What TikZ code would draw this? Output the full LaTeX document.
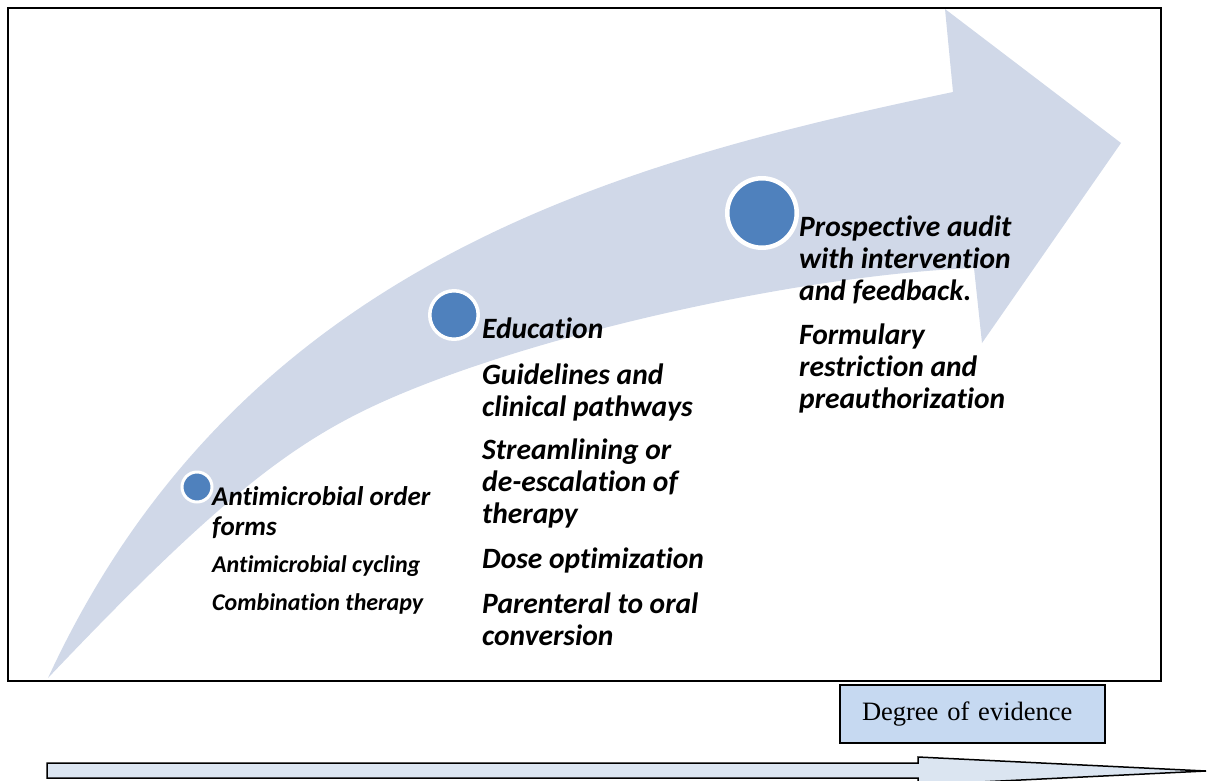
\documentclass[tikz,border=0pt]{standalone}
\usepackage{fontspec}
\newfontfamily\calibri[Ligatures=NoCommon]{Carlito}
\newfontfamily\timesfont{Liberation Serif}
\definecolor{bandfill}{RGB}{208,216,232}
\definecolor{dotblue}{RGB}{79,129,189}
\definecolor{boxfill}{RGB}{198,217,241}
\definecolor{barfill}{RGB}{219,229,241}

\begin{document}
\begin{tikzpicture}[x=1pt,y=-1pt,
	leveldot/.style={draw=white,circle,fill=dotblue,inner sep=0,outer sep=0},
	practice/.style={anchor=base west,align=left,inner sep=0,font=\calibri\bfseries\itshape\fontsize{29.5pt}{32pt}\selectfont},
	practicelow/.style={practice,font=\calibri\bfseries\itshape\fontsize{27pt}{30pt}\selectfont},
	practicesmall/.style={practice,font=\calibri\bfseries\itshape\fontsize{24pt}{27pt}\selectfont}]
	\useasboundingbox (0,0) rectangle (1208,780);
	\fill[bandfill] (48,678) .. controls (240,262) and (620,162) .. (953,92) -- (945,9) -- (1121,143) -- (982,343) -- (974,268)
		.. controls (800,275) and (530,335) .. (380,403) .. controls (290,444) and (215,502) .. (48,678) -- cycle;
	\draw[line width=1.6pt] (8,8) rectangle (1161,681);
	\node[leveldot,line width=3pt,minimum size=30pt] (lowdot) at (197,487) {};
	\node[leveldot,line width=3.5pt,minimum size=48.5pt] (middot) at (454,315) {};
	\node[leveldot,line width=4.5pt,minimum size=69.5pt] (highdot) at (762,213) {};
	% texts are anchored at the baseline of their last line
	\node[practicelow] (orderforms) at (212,535) {Antimicrobial order\\forms};
	\node[practicesmall] (cycling) at (212,572) {Antimicrobial cycling};
	\node[practicesmall] (combination) at (212,610) {Combination therapy};
	\node[practice] (education) at (482,338) {Education};
	\node[practice] (guidelines) at (482,416) {Guidelines and\\clinical pathways};
	\node[practice] (streamlining) at (482,523) {Streamlining or\\de-escalation of\\therapy};
	\node[practice] (dose) at (482,568) {Dose optimization};
	\node[practice] (parenteral) at (482,645) {Parenteral to oral\\conversion};
	\node[practice] (audit) at (799,300) {Prospective audit\\with intervention\\and feedback.};
	\node[practice] (formulary) at (799,408) {Formulary\\restriction and\\preauthorization};
	\node[draw,line width=1.5pt,fill=boxfill,minimum width=265pt,minimum height=58pt,inner xsep=22pt,text width=221pt,align=left,
		font=\timesfont\fontsize{26.5pt}{30pt}\selectfont] (evidence) at (972.5,714) {Degree of evidence};
	\draw[line width=1.5pt,fill=barfill] (47,763) -- (918,763) -- (918,757) -- (1206,771) -- (918,785) -- (918,778) -- (47,778) -- cycle;
\end{tikzpicture}
\end{document}
